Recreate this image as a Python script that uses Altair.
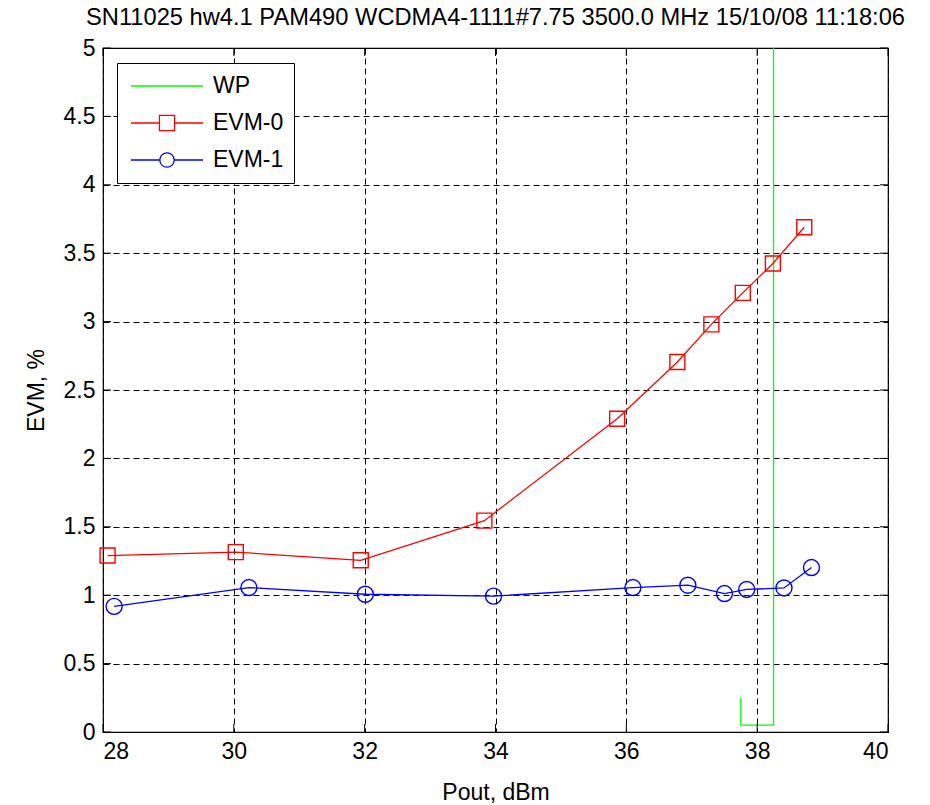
import altair as alt
import pandas as pd

title_text = "SN11025 hw4.1 PAM490 WCDMA4-1111#7.75 3500.0 MHz 15/10/08 11:18:06"
series_names = ["WP", "EVM-0", "EVM-1"]
series_colors = ["#00ff00", "#ff0000", "#0000ff"]

wp_x = [37.75, 37.75, 38.25, 38.25]
wp_y = [0.25, 0.05, 0.05, 5.0]

evm0_x = [28.07, 30.03, 31.94, 33.83, 35.86, 36.78, 37.30, 37.78, 38.24, 38.72]
evm0_y = [1.29, 1.315, 1.255, 1.545, 2.29, 2.705, 2.98, 3.21, 3.425, 3.69]

evm1_x = [28.17, 30.23, 32.01, 33.97, 36.10, 36.94, 37.50, 37.84, 38.41, 38.83]
evm1_y = [0.918, 1.056, 1.007, 0.993, 1.056, 1.073, 1.012, 1.042, 1.053, 1.202]

x_ticks = [28, 30, 32, 34, 36, 38, 40]
y_ticks = [0, 0.5, 1, 1.5, 2, 2.5, 3, 3.5, 4, 4.5, 5]

legend_paths = [
    "M-1,0H1",
    "M-1,0H-0.21M0.21,0H1M-0.21,-0.21H0.21V0.21H-0.21Z",
    "M-1,0H-0.2M0.2,0H1M-0.2,0A0.2,0.2 0 1,0 0.2,0A0.2,0.2 0 1,0 -0.2,0Z",
]

rows = []
for name, xs, ys in [("WP", wp_x, wp_y), ("EVM-0", evm0_x, evm0_y), ("EVM-1", evm1_x, evm1_y)]:
    for i, (xv, yv) in enumerate(zip(xs, ys)):
        rows.append({"series": name, "x": xv, "y": yv, "order": i})
df = pd.DataFrame(rows)

W, H = 785, 684
FONT = "Liberation Sans"
FS = 23

xscale = alt.Scale(domain=[28, 40], nice=False, zero=False)
yscale = alt.Scale(domain=[0, 5], nice=False, zero=False)

xaxis = alt.Axis(
    title="Pout, dBm", values=x_ticks, format="~g",
    grid=True, gridDash=[6, 4], gridColor="black", gridOpacity=1, gridWidth=1,
    domain=False, ticks=False,
    labelFont=FONT, labelFontSize=FS, labelColor="black", labelPadding=8,
    titleFont=FONT, titleFontSize=FS, titleFontWeight="normal", titleColor="black",
    titlePadding=18)
yaxis = alt.Axis(
    title="EVM, %", values=y_ticks, format="~g",
    grid=True, gridDash=[6, 4], gridColor="black", gridOpacity=1, gridWidth=1,
    domain=False, ticks=False,
    labelFont=FONT, labelFontSize=FS, labelColor="black", labelPadding=8,
    titleFont=FONT, titleFontSize=FS, titleFontWeight="normal", titleColor="black",
    titlePadding=15)


def X(field="x:Q"):
    return alt.X(field, scale=xscale, axis=xaxis)


def Y(field="y:Q"):
    return alt.Y(field, scale=yscale, axis=yaxis)


base = alt.Chart(df)

line_layers = []
for name, col in zip(series_names, series_colors):
    line_layers.append(
        base.transform_filter(alt.datum.series == name).mark_line(
            strokeWidth=1.3, color=col
        ).encode(x=X(), y=Y(), order="order:Q")
    )

squares = base.transform_filter(alt.datum.series == "EVM-0").mark_point(
    shape="square", size=225, filled=False, color="#ff0000", strokeWidth=1.4, opacity=1
).encode(x=X(), y=Y())

circles = base.transform_filter(alt.datum.series == "EVM-1").mark_point(
    shape="circle", size=256, filled=False, color="#0000ff", strokeWidth=1.4, opacity=1
).encode(x=X(), y=Y())

leg_spec = dict(
    title=None, orient="none", legendX=14, legendY=15,
    fillColor="white", strokeColor="black", padding=10,
    labelFont=FONT, labelFontSize=FS, labelColor="black",
    symbolSize=5184, symbolStrokeWidth=1.3, clipHeight=26, rowPadding=11,
    labelOffset=9, symbolOffset=3,
)

legend_layer = base.transform_filter("datum.y > 100").mark_point(
    filled=False, strokeWidth=1.3, opacity=1
).encode(
    x=X(), y=Y(),
    color=alt.Color("series:N", scale=alt.Scale(domain=series_names, range=series_colors),
                    legend=alt.Legend(**leg_spec)),
    shape=alt.Shape("series:N", scale=alt.Scale(domain=series_names, range=legend_paths),
                    legend=alt.Legend(**leg_spec)),
)

xt = alt.Chart(pd.DataFrame({"x": x_ticks}))
yt = alt.Chart(pd.DataFrame({"y": y_ticks}))
TL = 8
xtick_bottom = xt.mark_rule(color="black", strokeWidth=1).encode(
    x=X(), y=alt.value(H), y2=alt.value(H - TL))
xtick_top = xt.mark_rule(color="black", strokeWidth=1).encode(
    x=X(), y=alt.value(0), y2=alt.value(TL))
ytick_left = yt.mark_rule(color="black", strokeWidth=1).encode(
    y=Y(), x=alt.value(0), x2=alt.value(TL))
ytick_right = yt.mark_rule(color="black", strokeWidth=1).encode(
    y=Y(), x=alt.value(W), x2=alt.value(W - TL))

chart = alt.layer(
    *line_layers, squares, circles, legend_layer,
    xtick_bottom, xtick_top, ytick_left, ytick_right,
).properties(
    width=W, height=H,
    title=alt.TitleParams(title_text, font=FONT, fontSize=23.7, fontWeight="normal",
                          color="black", anchor="middle", frame="group", offset=7),
    autosize=alt.AutoSizeParams(type="none"),
    padding={"left": 103, "top": 48, "right": 42, "bottom": 73},
    background="white",
).configure_view(
    stroke="black", strokeWidth=1.2
)

chart.save("out.html", embed_options={"renderer": "svg", "actions": False})
